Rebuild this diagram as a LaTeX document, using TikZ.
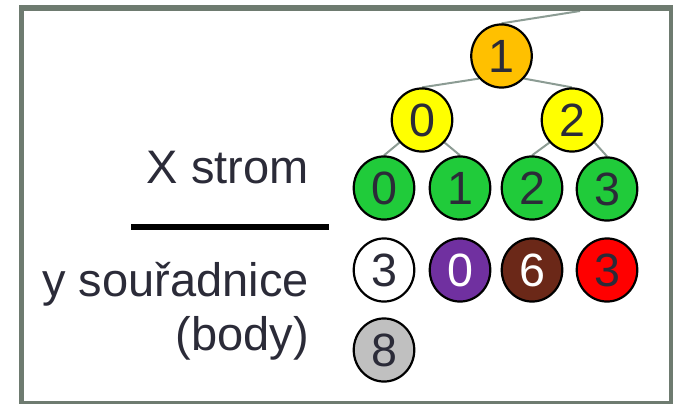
\documentclass[tikz,border=0pt]{standalone}
\usepackage{fontspec}
\setmainfont{Liberation Sans}
\usetikzlibrary{shapes.geometric,backgrounds}
\definecolor{framegray}{HTML}{6E7B70}
\definecolor{edgegray}{HTML}{8C9C94}
\definecolor{txt}{HTML}{2B2B38}
\definecolor{orangec}{HTML}{FFC000}
\definecolor{yellowc}{HTML}{FFFF00}
\definecolor{greenc}{HTML}{20CB3A}
\definecolor{purplec}{HTML}{7030A0}
\definecolor{brownc}{HTML}{6B2818}
\definecolor{redc}{HTML}{FF0000}
\definecolor{grayc}{HTML}{C0C0C0}
\tikzset{
  ball/.style={ellipse, draw=black, line width=1.65pt, minimum width=45.4pt, minimum height=47.3pt, inner sep=0pt, text=txt, font=\fontsize{35}{40}\selectfont},
  conn/.style={draw=edgegray, line width=1.5pt},
  lbl/.style={anchor=base east, inner sep=0pt, text=txt, font=\fontsize{35.25}{40}\selectfont}
}
\begin{document}
\begin{tikzpicture}[x=0.75pt, y=-0.75pt]
\useasboundingbox (0,0) rectangle (673,403);
\clip (0,0) rectangle (673,403);
% nodes
\node[ball, fill=orangec] (r) at (501.5,56) {1};
\node[ball, fill=yellowc] (y0) at (422,120) {0};
\node[ball, fill=yellowc] (y2) at (572,120) {2};
\node[ball, fill=greenc] (g0) at (384,188) {0};
\node[ball, fill=greenc] (g1) at (460,188) {1};
\node[ball, fill=greenc] (g2) at (532,188) {2};
\node[ball, fill=greenc] (g3) at (607,189) {3};
\node[ball, fill=white] (b0) at (384,270) {3};
\node[ball, fill=purplec, text=white] (b1) at (460,270) {0};
\node[ball, fill=brownc, text=white] (b2) at (532,270) {6};
\node[ball, fill=redc] (b3) at (607,270) {3};
\node[ball, fill=grayc] (b4) at (384,350) {8};
% connectors
\coordinate (up) at (580,11);
\begin{scope}[on background layer]
\draw[conn] (r.north) -- (up);
\draw[conn] (r.225) -- (y0.north);
\draw[conn] (r.315) -- (y2.north);
\draw[conn] (y0.225) -- (g0.north);
\draw[conn] (y0.315) -- (g1.north);
\draw[conn] (y2.225) -- (g2.north);
\draw[conn] (y2.315) -- (g3.north);
\end{scope}
% frame
\draw[framegray, line width=4.1pt] (21.5,8) rectangle (671.5,403.8);
% labels
\node[lbl] (xs) at (309,183) {X strom};
\node[lbl] (ys) at (309,296.5) {y souřadnice};
\node[lbl] (bd) at (309,350) {(body)};
\coordinate (h1) at (131,227);
\coordinate (h2) at (329,227);
\draw[black, line width=4.5pt] (h1) -- (h2);
\end{tikzpicture}
\end{document}
